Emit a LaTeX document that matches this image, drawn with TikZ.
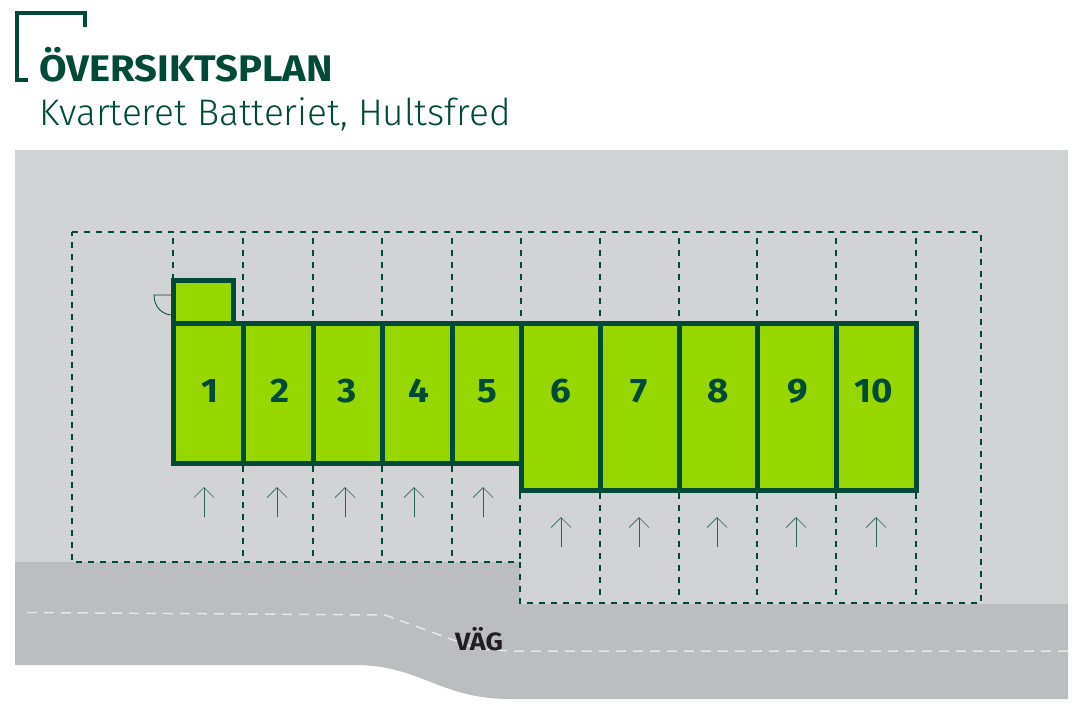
\documentclass[tikz,border=0pt]{standalone}
\usepackage{fontspec}
\usepackage{tikz}
\usetikzlibrary{arrows.meta}
\setmainfont{Fira Sans}
\newfontfamily\lightfont{Fira Sans Light}
\newfontfamily\headfont[FakeStretch=1.08]{Fira Sans Bold}
\definecolor{ground}{HTML}{D1D3D4}
\definecolor{roadgray}{HTML}{BCBDBF}
\definecolor{darkgreen}{HTML}{004A37}
\definecolor{limegreen}{HTML}{96D700}
\definecolor{roadline}{HTML}{E6E7E8}
\definecolor{vagtext}{HTML}{231F20}
\tikzset{
  unitbox/.style={draw=darkgreen, fill=limegreen, line width=5pt, inner sep=0pt, outer sep=0pt, anchor=north west},
  unitnum/.style={text=darkgreen, font=\fontsize{34}{34}\headfont},
  plotline/.style={draw=darkgreen, line width=1.5pt, dash pattern=on 6pt off 6pt},
  entryarrow/.style={draw=darkgreen!80!ground, line width=0.7pt, -{Straight Barb[length=10pt,width=20pt]}}
}

\begin{document}
\begin{tikzpicture}[x=1pt, y=-1pt]
  \useasboundingbox (0, 0) rectangle (1080, 713);

  % ground and road
  \fill [ground] (15, 150) rectangle (1068, 604);
  \fill [roadgray] (15, 562) -- (520, 562) -- (520, 604) -- (1068, 604) -- (1068, 699) -- (510, 699)
    .. controls (440, 699) and (420, 665) .. (355, 665) -- (15, 665) -- cycle;
  \draw [roadline, line width=1.5pt, dash pattern=on 10pt off 7pt]
    (27, 612.5) -- (385, 615) -- (478, 649) -- (510, 651) -- (1068, 651);
  \node [text=vagtext, font=\fontsize{25}{25}\headfont, inner sep=0pt] (vag) at (479, 639) {VÄG};

  % plots
  \draw [plotline] (72, 232) -- (981, 232) -- (981, 603) -- (520, 603) -- (520, 562) -- (72, 562) -- cycle;
  \foreach \xpos/\yend in {173/278, 243/323, 313/323, 382/323, 452/323, 521/323, 600/323, 679/323, 757/323, 836/323, 916/323} {
    \draw [plotline] (\xpos, 238) -- (\xpos, \yend);
  }
  \foreach \xpos in {243, 313, 382, 452} {
    \draw [plotline] (\xpos, 466) -- (\xpos, 558);
  }
  \foreach \xpos in {600, 679, 757, 836, 916} {
    \draw [plotline] (\xpos, 493) -- (\xpos, 599);
  }
  \draw [plotline] (520, 493) -- (520, 562);

  % units
  \node [unitbox, minimum width=60pt, minimum height=43pt] (annex) at (173, 280) {};
  \foreach \num/\xa/\xb/\yb/\xnum in {1/173/243/463/210, 2/243/313/463/280, 3/313/382/463/347, 4/382/452/463/419, 5/452/521/463/487,
    6/521/600/490/561, 7/600/679/490/639, 8/679/757/490/718, 9/757/836/490/798, 10/836/916/490/874} {
    \pgfmathsetmacro\wid{\xb - \xa};
    \pgfmathsetmacro\hei{\yb - 323};
    \node [unitbox, minimum width=\wid pt, minimum height=\hei pt] (unit\num) at (\xa, 323) {};
    \node [unitnum] (num\num) at (\xnum, 391) {\num};
  }

  % door
  \draw [darkgreen, line width=0.8pt] (171, 295) -- (154, 295) .. controls (154, 306) and (161, 314) .. (171, 315);

  % entries
  \foreach \xpos in {204, 277, 345, 414, 483} {
    \draw [entryarrow] (\xpos, 517) -- (\xpos, 487);
  }
  \foreach \xpos in {561, 639, 717, 796, 876} {
    \draw [entryarrow] (\xpos, 547) -- (\xpos, 517);
  }

  % heading
  \draw [darkgreen, line width=4pt] (85, 27) -- (85, 13) -- (17, 13) -- (17, 80) -- (28, 80);
  \node [anchor=base west, inner sep=0pt, text=darkgreen, font=\fontsize{37}{37}\headfont] (heading) at (39, 81) {ÖVERSIKTSPLAN};
  \node [anchor=base west, inner sep=0pt, text=darkgreen, font=\fontsize{37}{37}\lightfont] (subheading) at (39, 125) {Kvarteret Batteriet, Hultsfred};
\end{tikzpicture}
\end{document}
